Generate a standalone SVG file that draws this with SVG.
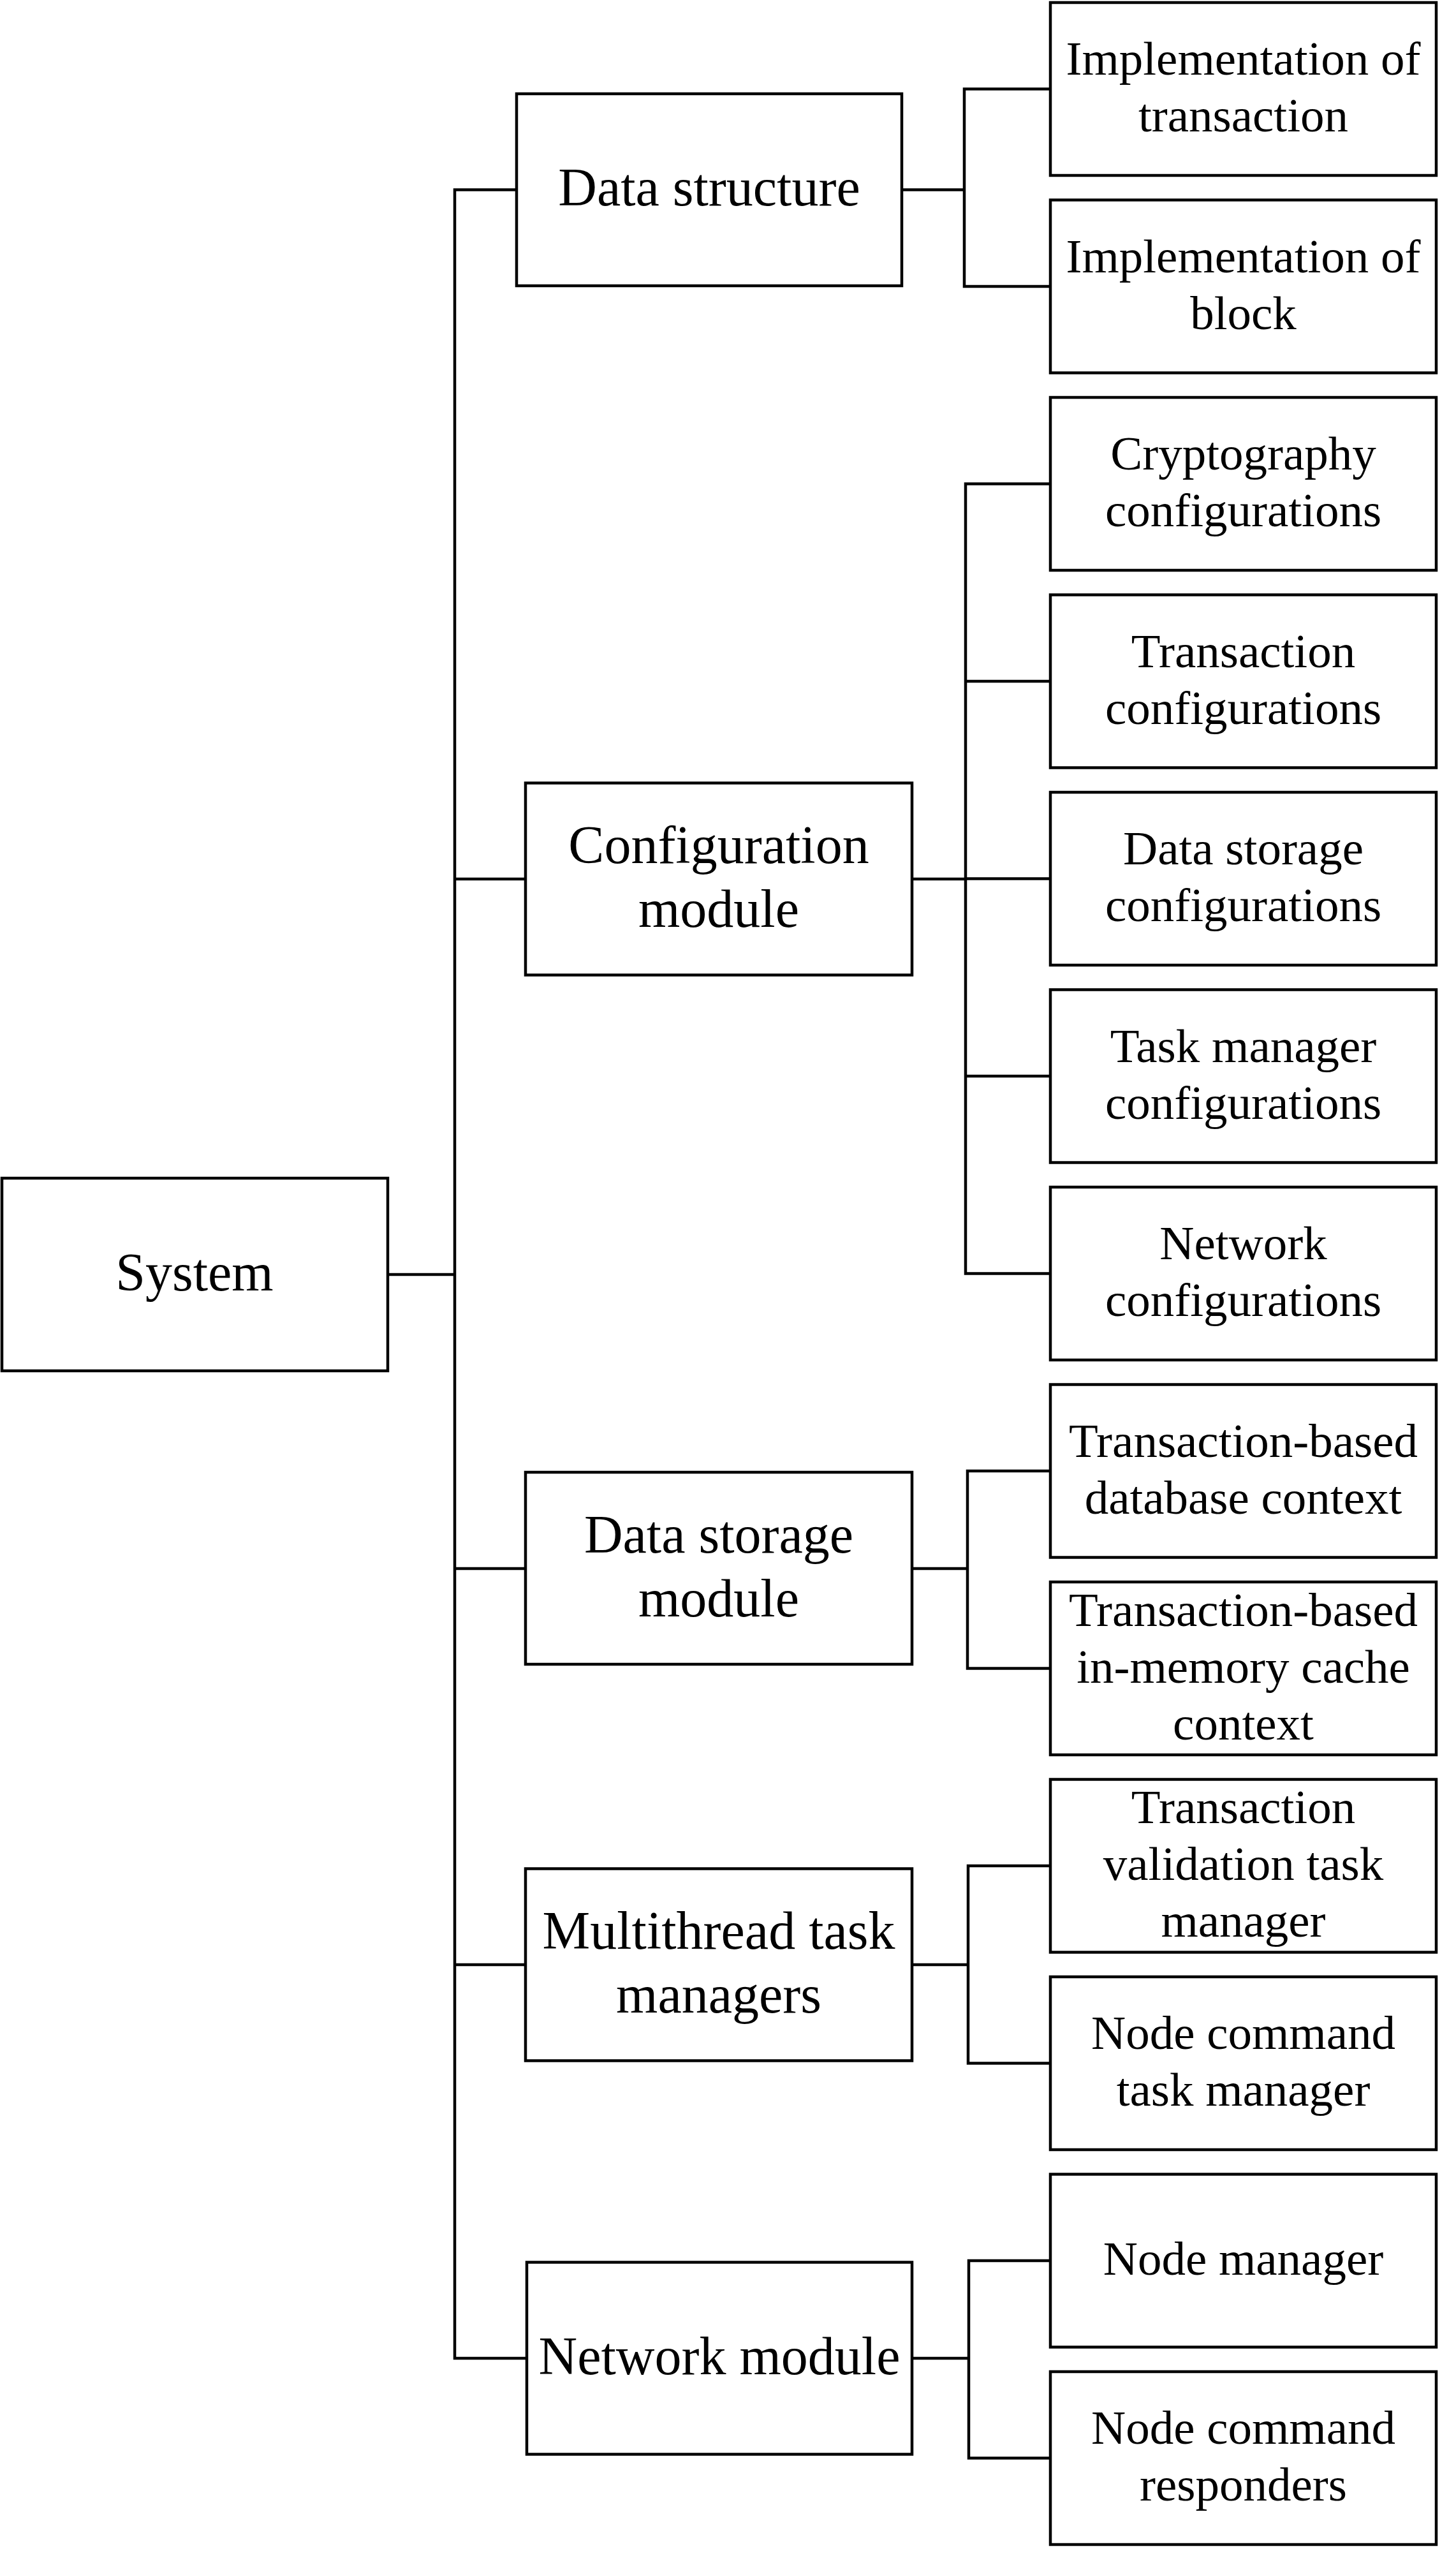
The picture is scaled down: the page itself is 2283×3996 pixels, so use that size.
<svg xmlns="http://www.w3.org/2000/svg" width="2283" height="3996" viewBox="0 0 2283 3996">
<style>
rect{fill:#fff;stroke:#000;stroke-width:4.5}
.c path{fill:none;stroke:#000;stroke-width:4.5;stroke-linecap:square}
text{font-family:"Liberation Serif","Times New Roman",serif;fill:#000;text-anchor:middle}
.l2 text,.root text{font-size:84px}
.lf text{font-size:75px}
</style>
<rect x="0" y="0" width="2283" height="3996" style="stroke:none"/>
<g class="c" id="connectors">
<path d="M608 1998H713M713 297.5V3697M713 297.5H810M713 1378H824M713 2459H824M713 3080H824M713 3697H826"/>
<path d="M1414 297.5H1512M1512 139.5V449M1512 139.5H1647M1512 449H1647"/>
<path d="M1430 1378H1514M1514 758.5V1996.5M1514 758.5H1647M1514 1068H1647M1514 1377.5H1647M1514 1687H1647M1514 1996.5H1647"/>
<path d="M1430 2459H1517M1517 2306V2615.5M1517 2306H1647M1517 2615.5H1647"/>
<path d="M1430 3080H1518M1518 2925V3234.5M1518 2925H1647M1518 3234.5H1647"/>
<path d="M1430 3697H1519M1519 3544V3853.5M1519 3544H1647M1519 3853.5H1647"/>
</g>
<g id="system" class="root"><rect x="3" y="1847" width="605" height="302"/><text x="305" y="2023">System</text></g>
<g id="data-structure" class="l2"><rect x="810" y="147" width="604" height="301"/><text x="1112" y="322">Data structure</text></g>
<g id="configuration-module" class="l2"><rect x="824" y="1227.5" width="606" height="301"/><text x="1127" y="1353">Configuration</text><text x="1127" y="1453">module</text></g>
<g id="data-storage-module" class="l2"><rect x="824" y="2308" width="606" height="301"/><text x="1127" y="2434">Data storage</text><text x="1127" y="2534">module</text></g>
<g id="multithread-task-managers" class="l2"><rect x="824" y="2929.5" width="606" height="301"/><text x="1127" y="3055">Multithread task</text><text x="1127" y="3155">managers</text></g>
<g id="network-module" class="l2"><rect x="826" y="3546.5" width="604" height="301"/><text x="1128" y="3722">Network module</text></g>
<g id="impl-transaction" class="lf"><rect x="1647" y="4" width="605" height="271"/><text x="1949.5" y="117">Implementation of</text><text x="1949.5" y="206">transaction</text></g>
<g id="impl-block" class="lf"><rect x="1647" y="313.5" width="605" height="271"/><text x="1949.5" y="426.5">Implementation of</text><text x="1949.5" y="515.5">block</text></g>
<g id="crypto-config" class="lf"><rect x="1647" y="623" width="605" height="271"/><text x="1949.5" y="736">Cryptography</text><text x="1949.5" y="825">configurations</text></g>
<g id="transaction-config" class="lf"><rect x="1647" y="932.5" width="605" height="271"/><text x="1949.5" y="1045.5">Transaction</text><text x="1949.5" y="1134.5">configurations</text></g>
<g id="data-storage-config" class="lf"><rect x="1647" y="1242" width="605" height="271"/><text x="1949.5" y="1355">Data storage</text><text x="1949.5" y="1444">configurations</text></g>
<g id="task-manager-config" class="lf"><rect x="1647" y="1551.5" width="605" height="271"/><text x="1949.5" y="1664.5">Task manager</text><text x="1949.5" y="1753.5">configurations</text></g>
<g id="network-config" class="lf"><rect x="1647" y="1861" width="605" height="271"/><text x="1949.5" y="1974">Network</text><text x="1949.5" y="2063">configurations</text></g>
<g id="db-context" class="lf"><rect x="1647" y="2170.5" width="605" height="271"/><text x="1949.5" y="2283.5">Transaction-based</text><text x="1949.5" y="2372.5">database context</text></g>
<g id="cache-context" class="lf"><rect x="1647" y="2480" width="605" height="271"/><text x="1949.5" y="2548.5">Transaction-based</text><text x="1949.5" y="2637.5">in-memory cache</text><text x="1949.5" y="2726.5">context</text></g>
<g id="validation-task-manager" class="lf"><rect x="1647" y="2789.5" width="605" height="271"/><text x="1949.5" y="2858">Transaction</text><text x="1949.5" y="2947">validation task</text><text x="1949.5" y="3036">manager</text></g>
<g id="node-command-task-manager" class="lf"><rect x="1647" y="3099" width="605" height="271"/><text x="1949.5" y="3212">Node command</text><text x="1949.5" y="3301">task manager</text></g>
<g id="node-manager" class="lf"><rect x="1647" y="3408.5" width="605" height="271"/><text x="1949.5" y="3566">Node manager</text></g>
<g id="node-command-responders" class="lf"><rect x="1647" y="3718" width="605" height="271"/><text x="1949.5" y="3831">Node command</text><text x="1949.5" y="3920">responders</text></g>
</svg>
